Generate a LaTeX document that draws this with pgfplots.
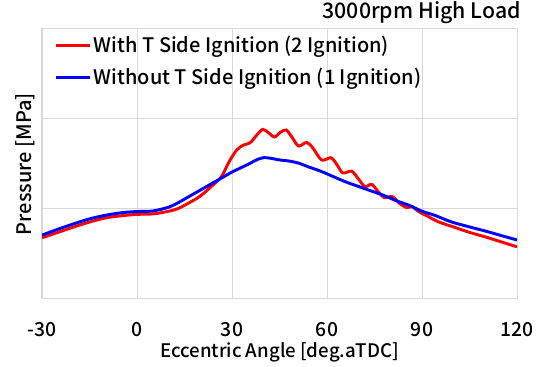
\documentclass[border=0pt]{standalone}
\usepackage{fontspec}
\setmainfont{Noto Sans CJK JP Medium}
\usepackage{pgfplots}
\pgfplotsset{compat=1.18}
\definecolor{gridgray}{RGB}{217,217,217}
\begin{document}
\begin{tikzpicture}
\begin{axis}[
  scale only axis,
  width=356.25pt, height=202.5pt,
  xmin=-30, xmax=120, ymin=0, ymax=3,
  xtick={-30,0,30,60,90,120},
  ytick={0,1,2,3}, yticklabels={},
  major tick length=0pt,
  /pgf/number format/assume math mode=true,
  xticklabel style={font=\fontsize{14.5}{14.5}\selectfont, yshift=-14pt},
  grid=major,
  grid style={gridgray, line width=0.75pt},
  axis line style={gridgray, line width=0.75pt},
  xlabel={Eccentric Angle [deg.aTDC]},
  xlabel style={font=\fontsize{14}{14}\selectfont, at={(axis description cs:0.5,0)}, anchor=center, yshift=-39.75pt},
  ylabel={Pressure [MPa]},
  ylabel style={font=\fontsize{15}{15}\selectfont, at={(axis description cs:0,0.5)}, anchor=center, yshift=12.75pt},
  legend style={at={(axis cs:-26,2.95)}, anchor=north west, draw=none, fill=none,
    font=\fontsize{15}{15}\selectfont, row sep=6pt, inner sep=0pt},
  legend cell align=left,
  legend image code/.code={\draw[#1] (0pt,0pt) -- (25pt,0pt);},
]
\addplot[red, line width=2.2pt, smooth] coordinates {
(-30,0.68) (-25,0.74) (-20,0.80) (-15,0.855) (-10,0.90) (-5,0.925) (0,0.94) (5,0.945)
(10,0.975) (13,1.005) (16,1.06) (20,1.144) (24,1.267) (26.7,1.36) (28,1.45) (29.4,1.544)
(31.5,1.656) (33.6,1.71) (35.7,1.735) (37.8,1.82) (39.7,1.885) (41.5,1.848) (43.4,1.80)
(45.2,1.85) (47.1,1.878) (48.9,1.80) (51,1.70) (53.6,1.74) (55.5,1.68) (58.3,1.544)
(61.2,1.57) (63,1.50) (65,1.40) (67.8,1.42) (70,1.33) (72,1.248) (74.1,1.274) (76,1.20)
(78.1,1.126) (80.6,1.137) (83,1.06) (85.2,1.015) (86.9,1.026) (89,0.97) (91.5,0.925)
(95,0.86) (100,0.80) (105,0.74) (110,0.69) (115,0.635) (120,0.58)
};
\addlegendentry{With T Side Ignition (2 Ignition)}
\addplot[blue, line width=2.2pt, smooth] coordinates {
(-30,0.71) (-25,0.775) (-20,0.835) (-15,0.89) (-10,0.93) (-5,0.958) (0,0.972) (5,0.978)
(10,1.02) (13,1.07) (16,1.13) (20,1.21) (25,1.31) (30,1.41) (35,1.495) (38,1.55) (40,1.57)
(42,1.565) (45,1.545) (48,1.533) (51,1.51) (54,1.47) (58,1.42) (62,1.36) (66,1.30)
(70,1.25) (74,1.20) (78,1.15) (82,1.09) (86,1.04) (90,0.975) (94,0.93) (99,0.86)
(104,0.81) (110,0.755) (115,0.705) (120,0.656)
};
\addlegendentry{Without T Side Ignition (1 Ignition)}
\end{axis}
\node[anchor=south east, font=\fontsize{16}{16}\selectfont, inner sep=0pt] at ([xshift=3pt,yshift=4pt]current axis.north east) {3000rpm High Load};
\path ([xshift=-31.5pt,yshift=-49.5pt]current axis.south west) rectangle ([xshift=18pt,yshift=21.75pt]current axis.north east);
\end{tikzpicture}
\end{document}
